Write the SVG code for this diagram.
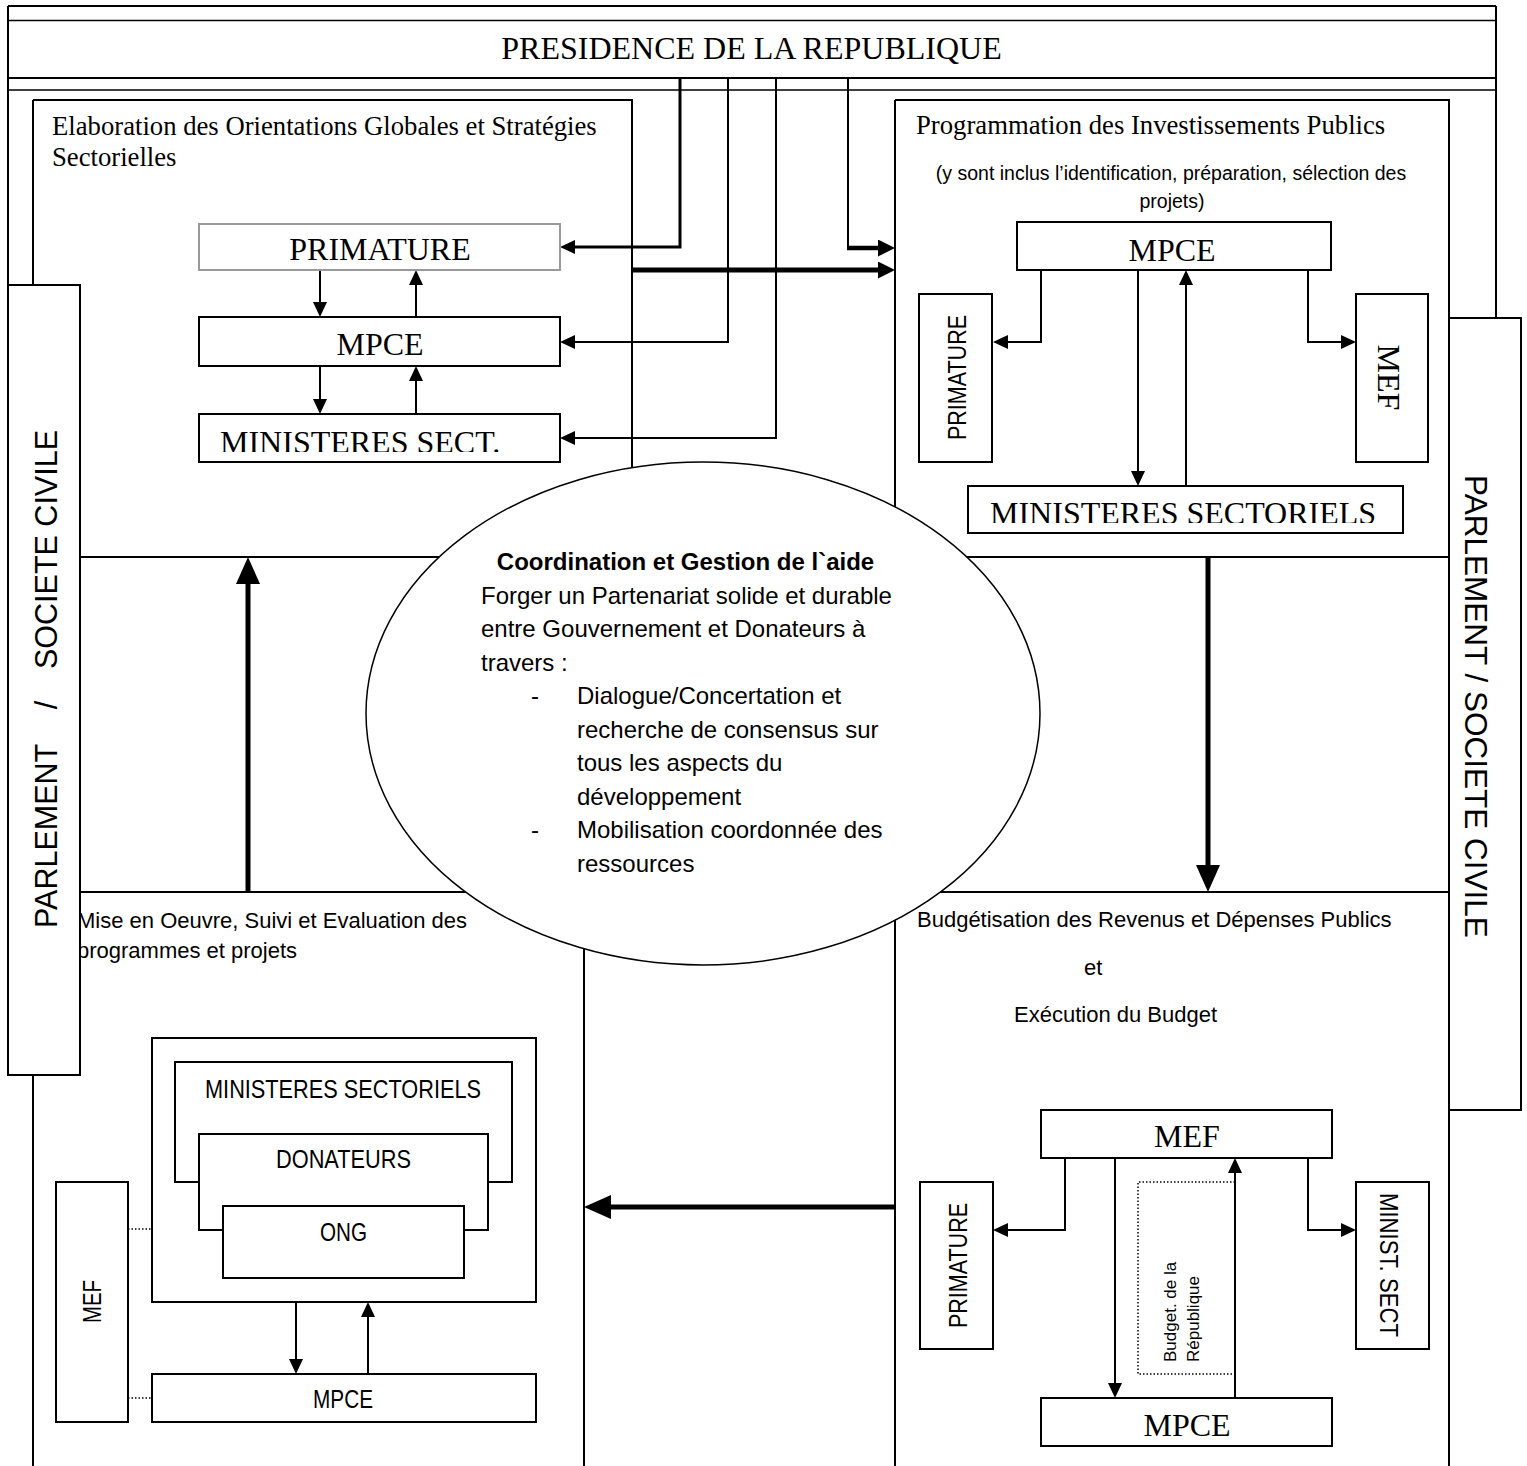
<svg xmlns="http://www.w3.org/2000/svg" width="1527" height="1466" viewBox="0 0 1527 1466">
<style>
  .ln { fill: none; stroke: #000; stroke-width: 2; }
  .thin { fill: none; stroke: #000; stroke-width: 1.5; }
  .w3 { stroke-width: 3; }
  .w45 { stroke-width: 4.5; }
  .w5 { stroke-width: 5; }
  .box { fill: #fff; stroke: #000; stroke-width: 2; }
  .gbox { fill: #fff; stroke: #999; stroke-width: 2; }
  .dot { fill: none; stroke: #000; stroke-width: 1.5; stroke-dasharray: 1.5 2; }
  .serif { font-family: "Liberation Serif", "Times New Roman", serif; fill: #000; }
  .sans { font-family: "Liberation Sans", Arial, sans-serif; fill: #000; }
  .lbl { font-size: 32px; }
  .head { font-size: 26.7px; }
  .body { font-size: 22px; }
  .ell { font-size: 24px; }
  .c { text-anchor: middle; }
  .e { text-anchor: end; }
</style>
<defs>
  <marker id="m1" markerUnits="userSpaceOnUse" markerWidth="15" markerHeight="14" viewBox="0 0 15 14" refX="1" refY="7" orient="auto"><path d="M0,0 L15,7 L0,14 z" fill="#000"/></marker>
  <marker id="m2" markerUnits="userSpaceOnUse" markerWidth="17" markerHeight="17" viewBox="0 0 17 17" refX="1" refY="8.5" orient="auto"><path d="M0,0 L17,8.5 L0,17 z" fill="#000"/></marker>
  <marker id="m3" markerUnits="userSpaceOnUse" markerWidth="27" markerHeight="24" viewBox="0 0 27 24" refX="1" refY="12" orient="auto"><path d="M0,0 L27,12 L0,24 z" fill="#000"/></marker>
  <clipPath id="clipMinL"><rect x="199" y="414" width="361" height="38"/></clipPath>
  <clipPath id="clipMinR"><rect x="968" y="486" width="435" height="37"/></clipPath>
</defs>

<rect x="0" y="0" width="1527" height="1466" fill="#fff"/>

<!-- frame: presidency band and the four quadrants -->
<g id="frame">
  <path class="ln" d="M8,6 H1496 M8,78 H1496 M8,6 V285 M1496,6 V318"/>
  <path class="thin" d="M8,20.5 H1496 M8,90 H1496"/>
  <path class="ln" d="M33,100 H632 V470 M33,100 V1466"/>
  <path class="ln" d="M895,100 H1449 V1466 M895,100 V1466"/>
  <path class="ln" d="M33,557 H1449 M33,892 H1449"/>
  <path class="ln" d="M584,930 V1466"/>
</g>

<!-- connectors -->
<g id="connectors">
  <path class="ln" d="M320,270 V303" marker-end="url(#m1)"/>
  <path class="ln" d="M416,317 V284" marker-end="url(#m1)"/>
  <path class="ln" d="M320,366 V400" marker-end="url(#m1)"/>
  <path class="ln" d="M416,414 V380" marker-end="url(#m1)"/>

  <path class="ln w3" d="M680,78 V247 H574" marker-end="url(#m1)"/>
  <path class="ln" d="M728,78 V342 H574" marker-end="url(#m1)"/>
  <path class="ln" d="M776,78 V438 H574" marker-end="url(#m1)"/>
  <path class="ln" d="M848,78 V248"/>
  <path class="ln w45" d="M847,248 H879" marker-end="url(#m2)"/>
  <path class="ln w5" d="M632,270 H879" marker-end="url(#m2)"/>

  <path class="ln" d="M1041,270 V342 H1007" marker-end="url(#m1)"/>
  <path class="ln" d="M1308,270 V342 H1342" marker-end="url(#m1)"/>
  <path class="ln" d="M1138,270 V472" marker-end="url(#m1)"/>
  <path class="ln" d="M1186,486 V284" marker-end="url(#m1)"/>

  <path class="ln w5" d="M248,892 V583" marker-end="url(#m3)"/>
  <path class="ln w5" d="M1208,557 V866" marker-end="url(#m3)"/>
  <path class="ln w5" d="M895,1207 H610" marker-end="url(#m3)"/>

  <path class="ln" d="M296,1302 V1360" marker-end="url(#m1)"/>
  <path class="ln" d="M368,1374 V1316" marker-end="url(#m1)"/>
  <path class="dot" d="M128,1229 H152 M128,1398 H152"/>

  <path class="ln" d="M1065,1158 V1230 H1007" marker-end="url(#m1)"/>
  <path class="ln" d="M1308,1158 V1230 H1342" marker-end="url(#m1)"/>
  <path class="ln" d="M1115,1158 V1384" marker-end="url(#m1)"/>
  <path class="ln" d="M1235,1398 V1172" marker-end="url(#m1)"/>
</g>

<!-- central aid coordination ellipse -->
<g id="coordination">
  <ellipse cx="703" cy="713.5" rx="337" ry="251.5" fill="#fff" stroke="#000" stroke-width="1.5"/>
  <text class="sans ell c" x="685.5" y="570" font-weight="bold">Coordination et Gestion de l`aide</text>
  <text class="sans ell" x="481" y="603.5">Forger un Partenariat solide et durable</text>
  <text class="sans ell" x="481" y="637">entre Gouvernement et Donateurs à</text>
  <text class="sans ell" x="481" y="670.5">travers :</text>
  <text class="sans ell" x="531" y="704">-</text>
  <text class="sans ell" x="577" y="704">Dialogue/Concertation et</text>
  <text class="sans ell" x="577" y="737.5">recherche de consensus sur</text>
  <text class="sans ell" x="577" y="771">tous les aspects du</text>
  <text class="sans ell" x="577" y="804.5">développement</text>
  <text class="sans ell" x="531" y="838">-</text>
  <text class="sans ell" x="577" y="838">Mobilisation coordonnée des</text>
  <text class="sans ell" x="577" y="871.5">ressources</text>
</g>

<!-- presidency -->
<g id="presidence">
  <text class="serif c" x="751.5" y="59" font-size="32">PRESIDENCE DE LA REPUBLIQUE</text>
</g>

<!-- quadrant titles -->
<g id="q-elaboration">
  <text class="serif head" x="52" y="135">Elaboration des Orientations Globales et Stratégies</text>
  <text class="serif head" x="52" y="166">Sectorielles</text>
</g>
<g id="q-programmation">
  <text class="serif head" x="916" y="134">Programmation des Investissements Publics</text>
  <text class="sans c" x="1171" y="180" font-size="19.5">(y sont inclus l’identification, préparation, sélection des</text>
  <text class="sans c" x="1172" y="208" font-size="19.5">projets)</text>
</g>
<g id="q-mise-en-oeuvre">
  <text class="sans body" x="77" y="928">Mise en Oeuvre, Suivi et Evaluation des</text>
  <text class="sans body" x="77" y="958">programmes et projets</text>
</g>
<g id="q-budget">
  <text class="sans body" x="917" y="927">Budgétisation des Revenus et Dépenses Publics</text>
  <text class="sans body" x="1084" y="975">et</text>
  <text class="sans body" x="1014" y="1022">Exécution du Budget</text>
</g>

<!-- top-left quadrant nodes -->
<g id="tl-primature">
  <rect class="gbox" x="199" y="224" width="361" height="46"/>
  <text class="serif lbl c" x="380" y="260">PRIMATURE</text>
</g>
<g id="tl-mpce">
  <rect class="box" x="199" y="317" width="361" height="49"/>
  <text class="serif lbl c" x="380" y="355">MPCE</text>
</g>
<g id="tl-ministeres">
  <rect class="box" x="199" y="414" width="361" height="48"/>
  <text class="serif lbl" x="220" y="453" clip-path="url(#clipMinL)">MINISTERES SECT.</text>
</g>

<!-- top-right quadrant nodes -->
<g id="tr-mpce">
  <rect class="box" x="1017" y="222" width="314" height="48"/>
  <text class="serif lbl c" x="1172" y="261">MPCE</text>
</g>
<g id="tr-primature">
  <rect class="box" x="919" y="294" width="73" height="168"/>
  <text class="sans c" transform="rotate(-90)" x="-377.5" y="966" font-size="26" textLength="125" lengthAdjust="spacingAndGlyphs">PRIMATURE</text>
</g>
<g id="tr-mef">
  <rect class="box" x="1356" y="294" width="72" height="168"/>
  <text class="serif lbl c" transform="rotate(90)" x="377.5" y="-1378">MEF</text>
</g>
<g id="tr-ministeres">
  <rect class="box" x="968" y="486" width="435" height="47"/>
  <text class="serif lbl" x="990" y="524" clip-path="url(#clipMinR)">MINISTERES SECTORIELS</text>
</g>

<!-- bottom-left quadrant nodes -->
<g id="bl-acteurs">
  <rect class="box" x="152" y="1038" width="384" height="264"/>
</g>
<g id="bl-ministeres">
  <rect class="box" x="175" y="1062" width="337" height="120"/>
  <text class="sans" x="205" y="1098" font-size="26" textLength="276" lengthAdjust="spacingAndGlyphs">MINISTERES SECTORIELS</text>
</g>
<g id="bl-donateurs">
  <rect class="box" x="199" y="1134" width="289" height="96"/>
  <text class="sans" x="276" y="1168" font-size="26" textLength="135" lengthAdjust="spacingAndGlyphs">DONATEURS</text>
</g>
<g id="bl-ong">
  <rect class="box" x="223" y="1206" width="241" height="72"/>
  <text class="sans" x="320" y="1241" font-size="26" textLength="47" lengthAdjust="spacingAndGlyphs">ONG</text>
</g>
<g id="bl-mpce">
  <rect class="box" x="152" y="1374" width="384" height="48"/>
  <text class="sans" x="313" y="1408" font-size="26" textLength="60" lengthAdjust="spacingAndGlyphs">MPCE</text>
</g>
<g id="bl-mef">
  <rect class="box" x="56" y="1182" width="72" height="240"/>
  <text class="sans c" transform="rotate(-90)" x="-1301.5" y="101" font-size="26" textLength="43" lengthAdjust="spacingAndGlyphs">MEF</text>
</g>

<!-- bottom-right quadrant nodes -->
<g id="br-mef">
  <rect class="box" x="1041" y="1110" width="291" height="48"/>
  <text class="serif lbl c" x="1187" y="1147">MEF</text>
</g>
<g id="br-primature">
  <rect class="box" x="920" y="1182" width="73" height="167"/>
  <text class="sans c" transform="rotate(-90)" x="-1265.5" y="967" font-size="26" textLength="125" lengthAdjust="spacingAndGlyphs">PRIMATURE</text>
</g>
<g id="br-minist-sect">
  <rect class="box" x="1356" y="1182" width="73" height="167"/>
  <text class="sans" transform="rotate(90)" x="1193" y="-1380" font-size="26" textLength="144" lengthAdjust="spacingAndGlyphs">MINIST. SECT</text>
</g>
<g id="br-budget">
  <path class="dot" d="M1235,1182 H1138 V1374 H1235"/>
  <text class="sans" transform="rotate(-90)" x="-1362" y="1176" font-size="17">Budget. de la</text>
  <text class="sans" transform="rotate(-90)" x="-1362" y="1199" font-size="17">République</text>
</g>
<g id="br-mpce">
  <rect class="box" x="1041" y="1398" width="291" height="48"/>
  <text class="serif lbl c" x="1187" y="1436">MPCE</text>
</g>

<!-- parliament / civil society side bands -->
<g id="parlement-gauche">
  <rect class="box" x="8" y="285" width="72" height="790"/>
  <text class="sans" transform="rotate(-90)" x="-928" y="57" font-size="30.5">PARLEMENT</text>
  <text class="sans c" transform="rotate(-90)" x="-705" y="57" font-size="30.5">/</text>
  <text class="sans e" transform="rotate(-90)" x="-430" y="57" font-size="30.5">SOCIETE CIVILE</text>
</g>
<g id="parlement-droite">
  <rect class="box" x="1449" y="318" width="72" height="792"/>
  <text class="sans" transform="rotate(90)" x="475" y="-1465" font-size="31.5">PARLEMENT / SOCIETE CIVILE</text>
</g>
</svg>
